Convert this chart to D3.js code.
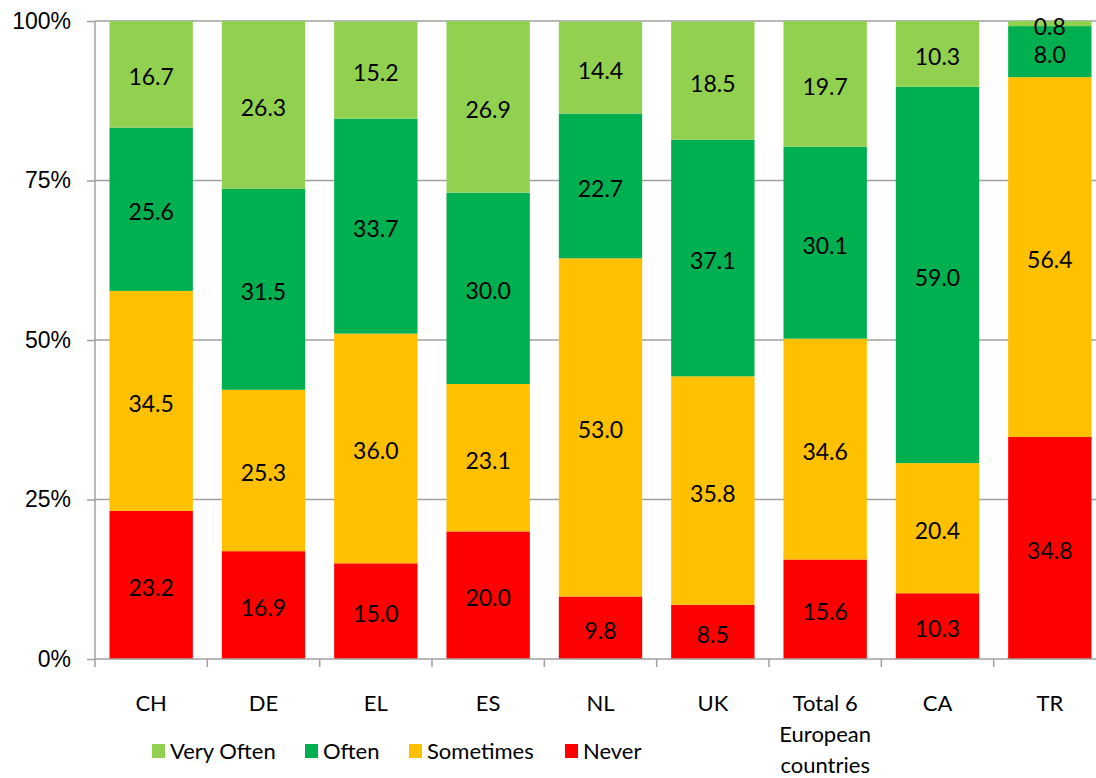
<!DOCTYPE html>
<html>
<head>
<meta charset="utf-8">
<script src="https://cdn.jsdelivr.net/npm/d3@7"></script>
<style>
  body { margin: 0; background: #fff; }
  svg { display: block; font-family: Lato, "Open Sans", sans-serif; }
</style>
</head>
<body>
<div id="chart"></div>
<script>
// chart values, in percent
var categories = ["CH", "DE", "EL", "ES", "NL", "UK", "Total 6|European|countries", "CA", "TR"];
var seriesNames = ["Never", "Sometimes", "Often", "Very Often"];
var never     = [23.2, 16.9, 15.0, 20.0,  9.8,  8.5, 15.6, 10.3, 34.8];
var sometimes = [34.5, 25.3, 36.0, 23.1, 53.0, 35.8, 34.6, 20.4, 56.4];
var often     = [25.6, 31.5, 33.7, 30.0, 22.7, 37.1, 30.1, 59.0,  8.0];
var veryOften = [16.7, 26.3, 15.2, 26.9, 14.4, 18.5, 19.7, 10.3,  0.8];
var yTicks = [0, 25, 50, 75, 100];
var legendOrder = ["Very Often", "Often", "Sometimes", "Never"];

var colors = {"Never": "#ff0000", "Sometimes": "#ffc000", "Often": "#00b050", "Very Often": "#92d050"};

var W = 1096, H = 778;
var margin = {top: 21, right: -10, bottom: 119, left: 95};
var width = W - margin.left - margin.right,
    height = H - margin.top - margin.bottom;

var svg = d3.select("#chart").append("svg")
    .attr("width", W).attr("height", H);
var g = svg.append("g").attr("transform", "translate(" + margin.left + "," + margin.top + ")");

// build table for the stack
var table = categories.map(function(c, i) {
  return {cat: c, "Never": never[i], "Sometimes": sometimes[i], "Often": often[i], "Very Often": veryOften[i]};
});
var stacked = d3.stack().keys(seriesNames)(table);

var x = d3.scaleBand().domain(categories).range([0, width]).paddingInner(0.258).paddingOuter(0.129);
var y = d3.scaleLinear().domain([0, 100]).range([height, 0]);

// gridlines
g.selectAll(".grid").data(yTicks.filter(function(d) { return d > 0; }))
  .enter().append("line")
  .attr("x1", 0).attr("x2", width)
  .attr("y1", function(d) { return y(d); }).attr("y2", function(d) { return y(d); })
  .attr("stroke", "#a0a0a0").attr("stroke-width", 1.5);

// bars
var layer = g.selectAll(".layer").data(stacked).enter().append("g")
  .attr("fill", function(d) { return colors[d.key]; });
layer.selectAll("rect").data(function(d) { return d; })
  .enter().append("rect")
  .attr("x", function(d) { return x(d.data.cat); })
  .attr("width", x.bandwidth())
  .attr("y", function(d) { return y(d[1]); })
  .attr("height", function(d) { return y(d[0]) - y(d[1]); });

// value labels
layer.selectAll("text").data(function(d) { return d; })
  .enter().append("text")
  .attr("x", function(d) { return x(d.data.cat) + x.bandwidth() / 2; })
  .attr("y", function(d) { return (y(d[0]) + y(d[1])) / 2 + 2; })
  .attr("text-anchor", "middle")
  .attr("dominant-baseline", "central")
  .attr("fill", "#000")
  .style("font-size", "23px")
  .text(function(d) { return (d[1] - d[0]).toFixed(1); });

// y axis
var yAxis = g.append("g")
  .call(d3.axisLeft(y).tickValues(yTicks).tickSize(8).tickPadding(16).tickFormat(function(d) { return d + "%"; }));
yAxis.select(".domain").attr("stroke", "#a0a0a0").attr("stroke-width", 1.5).attr("d", "M0,0V" + height);
yAxis.selectAll(".tick line").attr("stroke", "#a0a0a0").attr("stroke-width", 1.5);
yAxis.selectAll("text").style("font-size", "23px").attr("fill", "#000").attr("font-family", null);

// x axis
var xAxisG = g.append("g").attr("transform", "translate(0," + height + ")");
xAxisG.append("line").attr("x1", 0).attr("x2", width).attr("stroke", "#a0a0a0").attr("stroke-width", 1.5);
var step = x.step();
xAxisG.selectAll(".xt").data(d3.range(categories.length + 1))
  .enter().append("line")
  .attr("x1", function(i) { return i * step; }).attr("x2", function(i) { return i * step; })
  .attr("y1", 0).attr("y2", 8)
  .attr("stroke", "#a0a0a0").attr("stroke-width", 1.5);
xAxisG.selectAll(".xl").data(categories)
  .enter().append("text")
  .attr("text-anchor", "middle")
  .attr("transform", function(d) { return "translate(" + (x(d) + x.bandwidth() / 2) + ",0)"; })
  .style("font-size", "22px")
  .each(function(d) {
    var lines = d.split("|");
    d3.select(this).selectAll("tspan").data(lines).enter().append("tspan")
      .attr("x", 0)
      .attr("y", function(l, i) { return 52 + i * 31; })
      .text(function(l) { return l; });
  });

// legend
var legendX = [152, 305, 409, 565];
var legend = svg.selectAll(".leg").data(legendOrder).enter().append("g")
  .attr("transform", function(d, i) { return "translate(" + legendX[i] + ",744)"; });
legend.append("rect").attr("width", 13).attr("height", 14)
  .attr("fill", function(d) { return colors[d]; });
legend.append("text").attr("x", 18).attr("y", 15)
  .style("font-size", "22px")
  .text(function(d) { return d; });
</script>
</body>
</html>
